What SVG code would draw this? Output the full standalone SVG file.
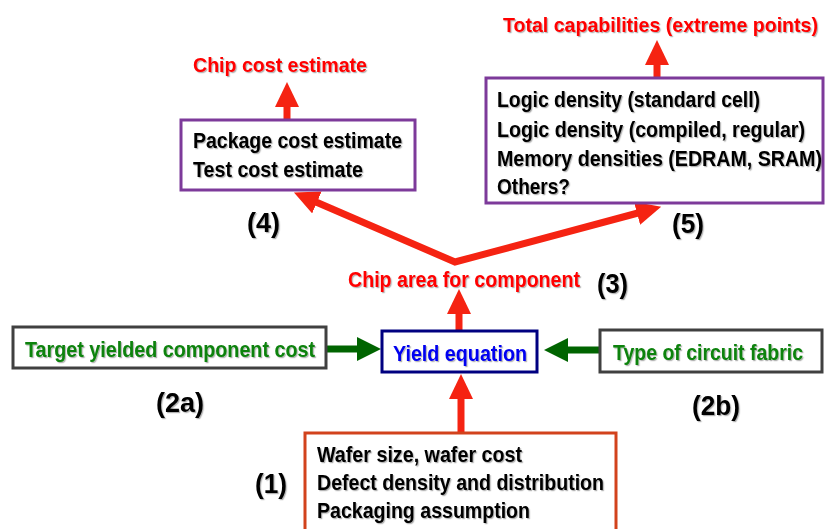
<svg xmlns="http://www.w3.org/2000/svg" width="825" height="529" viewBox="0 0 825 529">
<defs>
<marker id="rh" markerUnits="userSpaceOnUse" viewBox="0 -12 25 24" markerWidth="25" markerHeight="24" refX="1" refY="0" orient="auto-start-reverse"><path d="M0,-12 L25,0 L0,12 z" fill="#F52312"/></marker>
<marker id="gh" markerUnits="userSpaceOnUse" viewBox="0 -12 24 24" markerWidth="24" markerHeight="24" refX="1" refY="0" orient="auto"><path d="M0,-12 L24,0 L0,12 z" fill="#006400"/></marker>
<filter id="sh" x="-5%" y="-20%" width="110%" height="140%"><feDropShadow dx="1.2" dy="1.2" stdDeviation="0.6" flood-color="#000" flood-opacity="0.3"/></filter>
</defs>
<style>
text{font-family:"Liberation Sans",Arial,sans-serif;font-weight:bold;font-size:22px;filter:url(#sh)}
.blk{fill:#000}
.red{fill:#FF0000;font-size:21px}
.grn{fill:#0A820A}
.blu{fill:#0000F0}
.num{fill:#000;font-size:28px}
.box{fill:#fff;stroke-width:3}
.pur{stroke:#7D3A9A}
.nav{stroke:#000080}
.gry{stroke:#404040}
.org{stroke:#D2421C}
.ra{stroke:#F52312;stroke-width:7;fill:none;marker-end:url(#rh)}
.ga{stroke:#006400;stroke-width:7;fill:none;marker-end:url(#gh)}
</style>
<rect width="825" height="529" fill="#fff"/>
<g id="connectors">
<path class="ra" d="M287,120 V106"/>
<path class="ra" d="M657,78 V64"/>
<path class="ra" d="M459,331 V313"/>
<path class="ra" d="M461,433 V398"/>
<polyline points="316,202 455,262 638,213" style="stroke:#F52312;stroke-width:7;fill:none;stroke-linejoin:miter;marker-start:url(#rh);marker-end:url(#rh)"/>
<path class="ga" d="M326,349 H358"/>
<path class="ga" d="M600,350 H567"/>
</g>
<text class="red" x="193" y="72" textLength="174" lengthAdjust="spacingAndGlyphs">Chip cost estimate</text>
<text class="red" x="503" y="32" textLength="315" lengthAdjust="spacingAndGlyphs">Total capabilities (extreme points)</text>
<g id="n4">
<rect class="box pur" x="181" y="120" width="234" height="70"/>
<text class="blk" x="193" y="148" textLength="209" lengthAdjust="spacingAndGlyphs">Package cost estimate</text>
<text class="blk" x="193" y="177" textLength="170" lengthAdjust="spacingAndGlyphs">Test cost estimate</text>
<text class="num" x="247" y="232" textLength="33" lengthAdjust="spacingAndGlyphs">(4)</text>
</g>
<g id="n5">
<rect class="box pur" x="486" y="78" width="337" height="125"/>
<text class="blk" x="497" y="107" textLength="263" lengthAdjust="spacingAndGlyphs">Logic density (standard cell)</text>
<text class="blk" x="497" y="137" textLength="308" lengthAdjust="spacingAndGlyphs">Logic density (compiled, regular)</text>
<text class="blk" x="497" y="166" textLength="325" lengthAdjust="spacingAndGlyphs">Memory densities (EDRAM, SRAM)</text>
<text class="blk" x="497" y="194" textLength="73" lengthAdjust="spacingAndGlyphs">Others?</text>
<text class="num" x="672" y="233" textLength="32" lengthAdjust="spacingAndGlyphs">(5)</text>
</g>
<g id="n3">
<text class="red" x="348" y="287" style="font-size:22px" textLength="232" lengthAdjust="spacingAndGlyphs">Chip area for component</text>
<text class="num" x="597" y="293" textLength="31" lengthAdjust="spacingAndGlyphs">(3)</text>
</g>
<g id="yield">
<rect class="box nav" x="382" y="331" width="155" height="41"/>
<text class="blu" x="393" y="361" textLength="134" lengthAdjust="spacingAndGlyphs">Yield equation</text>
</g>
<g id="n2a">
<rect class="box gry" x="13" y="327" width="313" height="41"/>
<text class="grn" x="25" y="357" textLength="290" lengthAdjust="spacingAndGlyphs">Target yielded component cost</text>
<text class="num" x="156" y="412" textLength="48" lengthAdjust="spacingAndGlyphs">(2a)</text>
</g>
<g id="n2b">
<rect class="box gry" x="600" y="330" width="222" height="42"/>
<text class="grn" x="613" y="360" textLength="190" lengthAdjust="spacingAndGlyphs">Type of circuit fabric</text>
<text class="num" x="692" y="415" textLength="48" lengthAdjust="spacingAndGlyphs">(2b)</text>
</g>
<g id="n1">
<rect class="box org" x="305" y="433" width="311" height="100"/>
<text class="blk" x="317" y="462" textLength="205" lengthAdjust="spacingAndGlyphs">Wafer size, wafer cost</text>
<text class="blk" x="317" y="490" textLength="287" lengthAdjust="spacingAndGlyphs">Defect density and distribution</text>
<text class="blk" x="317" y="518" textLength="213" lengthAdjust="spacingAndGlyphs">Packaging assumption</text>
<text class="num" x="255" y="493" textLength="32" lengthAdjust="spacingAndGlyphs">(1)</text>
</g>
</svg>
